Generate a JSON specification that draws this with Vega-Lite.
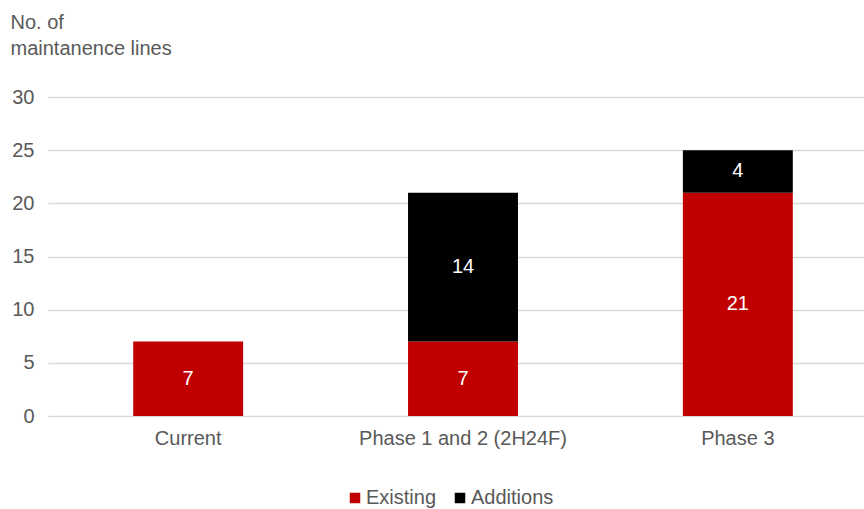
{
  "$schema": "https://vega.github.io/schema/vega-lite/v6.json",
  "autosize": {"type": "none"},
  "width": 830,
  "height": 319,
  "padding": {"left": 48, "top": 97, "right": 0, "bottom": 93},
  "background": "white",
  "config": {
    "font": "Liberation Sans",
    "view": {"stroke": null}
  },
  "data": {
    "values": [
      {"phase": "Current", "type": "Existing", "value": 7, "ord": 1},
      {"phase": "Phase 1 and 2 (2H24F)", "type": "Existing", "value": 7, "ord": 1},
      {"phase": "Phase 1 and 2 (2H24F)", "type": "Additions", "value": 14, "ord": 2},
      {"phase": "Phase 3", "type": "Existing", "value": 21, "ord": 1},
      {"phase": "Phase 3", "type": "Additions", "value": 4, "ord": 2}
    ]
  },
  "encoding": {
    "x": {
      "field": "phase",
      "type": "nominal",
      "sort": ["Current", "Phase 1 and 2 (2H24F)", "Phase 3"],
      "scale": {"paddingInner": 0.6, "paddingOuter": 0.31},
      "axis": {
        "title": null,
        "labelAngle": 0,
        "labelFontSize": 20,
        "labelLimit": 0,
        "labelColor": "#595959",
        "labelPadding": 12,
        "ticks": false,
        "domain": false
      }
    },
    "y": {
      "field": "value",
      "type": "quantitative",
      "stack": "zero",
      "scale": {"domain": [0, 30]},
      "axis": {
        "values": [0, 5, 10, 15, 20, 25, 30],
        "labelFontSize": 20,
        "labelColor": "#595959",
        "labelPadding": 14,
        "ticks": false,
        "domain": false,
        "gridColor": "#D9D9D9",
        "gridWidth": 1.3,
        "title": ["No. of", "maintanence lines"],
        "titleAngle": 0,
        "titleAlign": "left",
        "titleBaseline": "top",
        "titleX": -38,
        "titleY": -85,
        "titleFontSize": 20,
        "titleFontWeight": "normal",
        "titleColor": "#595959",
        "titleLineHeight": 26
      }
    },
    "order": {"field": "ord", "type": "quantitative"}
  },
  "layer": [
    {
      "mark": {"type": "bar"},
      "encoding": {
        "color": {
          "field": "type",
          "type": "nominal",
          "scale": {"domain": ["Existing", "Additions"], "range": ["#C00000", "#000000"]},
          "legend": {
            "title": null,
            "orient": "none",
            "direction": "horizontal",
            "legendX": 297,
            "legendY": 391,
            "symbolType": "square",
            "symbolSize": 110,
            "symbolStrokeWidth": 0,
            "labelFontSize": 20,
            "labelColor": "#595959",
            "labelOffset": 1,
            "columnPadding": 13
          }
        }
      }
    },
    {
      "mark": {"type": "text", "color": "white", "fontSize": 20},
      "encoding": {
        "y": {"field": "value", "type": "quantitative", "stack": "zero", "bandPosition": 0.5},
        "text": {"field": "value", "type": "quantitative"}
      }
    }
  ]
}
